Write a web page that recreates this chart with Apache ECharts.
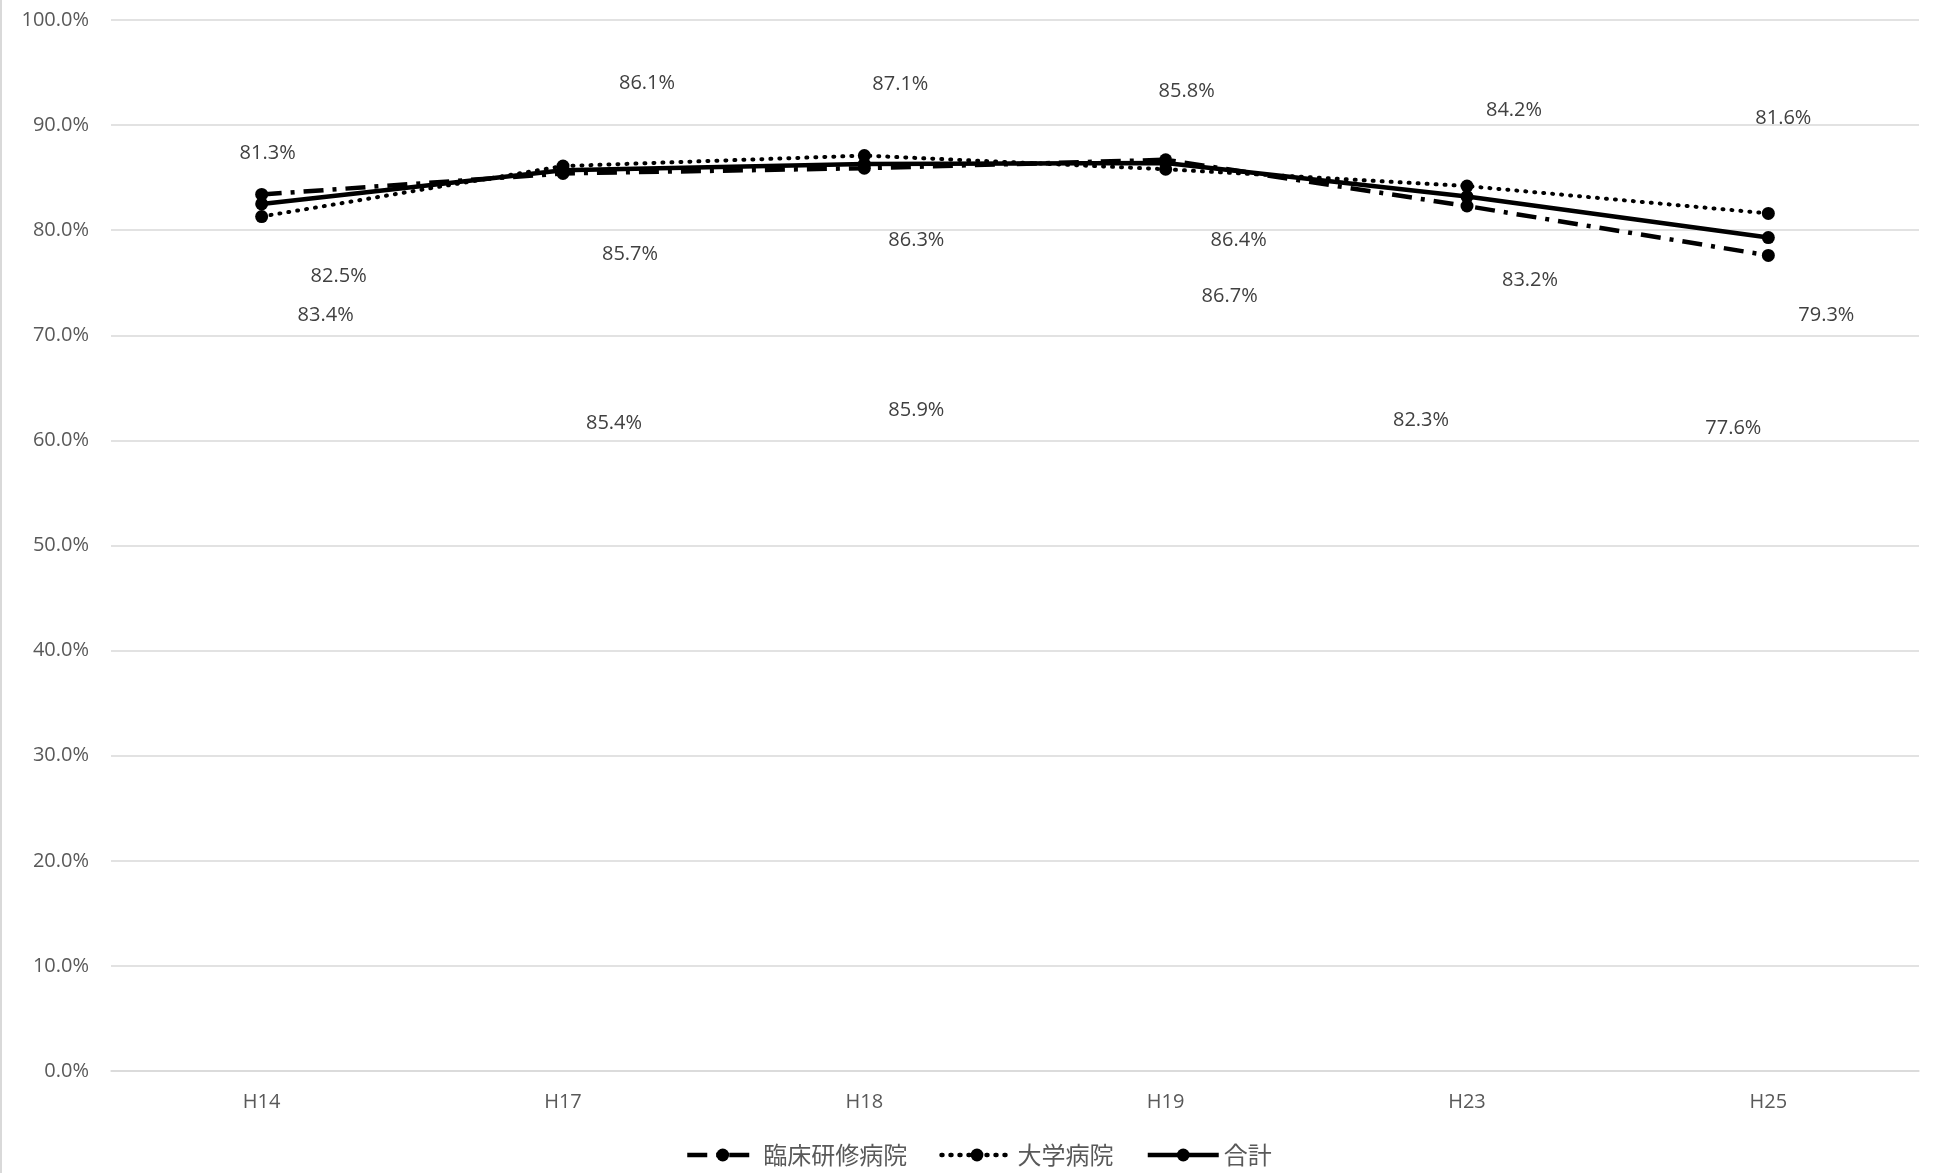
<!DOCTYPE html>
<html>
<head>
<meta charset="utf-8">
<script src="https://cdn.jsdelivr.net/npm/echarts@6/dist/echarts.min.js"></script>
<style>
html,body{margin:0;padding:0;background:#fff;}
#chart{width:1933px;height:1173px;}
</style>
</head>
<body>
<div id="chart"></div>
<script>
// ---- data ----
const categories = ['H14', 'H17', 'H18', 'H19', 'H23', 'H25'];
const seriesNames = ['臨床研修病院', '大学病院', '合計'];
const rinshouValues = [83.4, 85.4, 85.9, 86.7, 82.3, 77.6];
const daigakuValues = [81.3, 86.1, 87.1, 85.8, 84.2, 81.6];
const goukeiValues = [82.5, 85.7, 86.3, 86.4, 83.2, 79.3];
const yMin = 0, yMax = 100, yInterval = 10;

// ---- layout: data-label pixel offsets (label centre relative to point) ----
const rinshouLabelOffsets = [[64,121],[51,250],[52,242],[64,137],[-46,214],[-35,173]];
const daigakuLabelOffsets = [[6,-63],[84,-83],[36,-71],[21,-78],[47,-76],[15,-95]];
const goukeiLabelOffsets = [[77,72],[67,84],[52,76],[73,77],[63,84],[58,78]];

const FONT = '"Open Sans", "Noto Sans", sans-serif';
const CJK = '"Noto Sans CJK JP", "Noto Sans", sans-serif';

function buildData(values, offsets) {
  return values.map((v, i) => ({
    value: v,
    label: { offset: offsets[i] }
  }));
}

function makeSeries(name, values, offsets, lineStyle, z) {
  return {
    name: name,
    type: 'line',
    data: buildData(values, offsets),
    symbol: 'circle',
    symbolSize: 13,
    z: z,
    itemStyle: { color: '#000' },
    lineStyle: Object.assign({ color: '#000', width: 4.5 }, lineStyle),
    label: {
      show: true,
      position: 'inside',
      formatter: p => p.value.toFixed(1) + '%',
      color: '#404040',
      fontSize: 20,
      fontFamily: FONT
    },
    emphasis: { disabled: true },
    animation: false
  };
}

const chart = echarts.init(document.getElementById('chart'));
chart.setOption({
  backgroundColor: '#fff',
  animation: false,
  graphic: [{
    type: 'line',
    shape: { x1: 1, y1: 0, x2: 1, y2: 1173 },
    style: { stroke: '#d9d9d9', lineWidth: 2 }
  }],
  grid: { left: 111, right: 14, top: 20, bottom: 102 },
  legend: {
    data: seriesNames,
    left: 680,
    top: 1138,
    itemWidth: 71,
    itemHeight: 16,
    itemGap: 32,
    lineStyle: { width: 4.5 },
    textStyle: { color: '#595959', fontSize: 24, fontFamily: CJK }
  },
  xAxis: {
    type: 'category',
    data: categories,
    boundaryGap: true,
    axisLine: { show: true, lineStyle: { color: '#d9d9d9', width: 1.5 } },
    axisTick: { show: false },
    axisLabel: { color: '#595959', fontSize: 20, fontFamily: FONT, margin: 21 }
  },
  yAxis: {
    type: 'value',
    min: yMin,
    max: yMax,
    interval: yInterval,
    axisLine: { show: false },
    axisTick: { show: false },
    splitLine: { lineStyle: { color: '#d9d9d9', width: 1.5 } },
    axisLabel: {
      color: '#595959', fontSize: 20, fontFamily: FONT, margin: 22,
      formatter: v => v.toFixed(1) + '%'
    }
  },
  series: [
    makeSeries(seriesNames[0], rinshouValues, rinshouLabelOffsets, { type: [20, 9, 4, 9] }, 3),
    makeSeries(seriesNames[1], daigakuValues, daigakuLabelOffsets, { type: [1, 8], cap: 'round', width: 4 }, 2),
    makeSeries(seriesNames[2], goukeiValues, goukeiLabelOffsets, { type: 'solid' }, 4)
  ]
});
</script>
</body>
</html>
